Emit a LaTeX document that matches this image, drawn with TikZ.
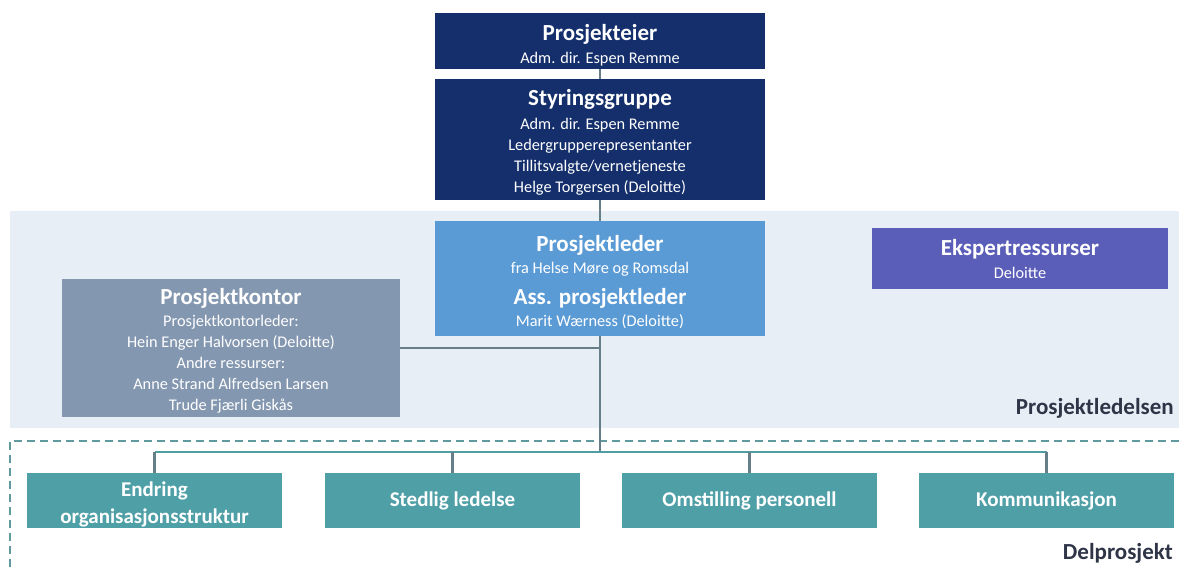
\documentclass[tikz,border=0pt]{standalone}
\usepackage{fontspec}
\setmainfont{Carlito}
\definecolor{navy}{HTML}{142F6B}
\definecolor{leadblue}{HTML}{5B9BD5}
\definecolor{officegrey}{HTML}{8497B0}
\definecolor{expert}{HTML}{5A5EB8}
\definecolor{teal}{HTML}{4F9FA7}
\definecolor{bandbg}{HTML}{E7EEF6}
\definecolor{labeltext}{HTML}{2E3547}
\definecolor{linegrey}{HTML}{667E88}
\definecolor{busteal}{HTML}{4E9EA2}
\definecolor{dashteal}{HTML}{5E9A9E}
\newcommand\titletxt{\fontsize{23}{26}\selectfont\bfseries}
\newcommand\subtxt{\fontsize{16.3}{21}\selectfont}
\newcommand\unittxt{\fontsize{21}{27}\selectfont\bfseries}
% invisible strut that pads the first line of a box from above
\newcommand\lift[1]{\rule{0pt}{#1pt}}
\tikzset{
  orgbox/.style={rectangle, inner sep=0pt, text=white, align=center, font=\subtxt},
  topbox/.style={orgbox, fill=navy, minimum width=330pt},
  unitbox/.style={orgbox, fill=teal, minimum width=255pt, minimum height=55pt, font=\unittxt},
  uline/.style={draw=linegrey, line width=2.2pt},
  busline/.style={draw=busteal, line width=2.2pt},
  sectionlabel/.style={anchor=east, inner sep=0pt, text=labeltext, font=\titletxt},
}
\begin{document}
\begin{tikzpicture}[x=1pt,y=-1pt]
\useasboundingbox (0,0) rectangle (1179,568);
% background bands
\fill[bandbg] (10,211) rectangle (1179,428);
\draw[dashteal, line width=2pt, dash pattern=on 8pt off 5pt] (1179,441) -- (10,441) -- (10,568);

% top level
\node[topbox, minimum height=56pt] (eier) at (600,41)
  {\lift{24}{\titletxt Prosjekteier}\\[2pt] Adm. dir. Espen Remme};
\node[topbox, minimum height=121pt] (styr) at (600,139.5)
  {\lift{21}{\titletxt Styringsgruppe}\\[3pt] Adm. dir. Espen Remme\\ Ledergrupperepresentanter\\ Tillitsvalgte/vernetjeneste\\ Helge Torgersen (Deloitte)};

% project management
\node[orgbox, fill=leadblue, minimum width=330pt, minimum height=115pt] (leder) at (600,278.5)
  {\lift{24}{\titletxt Prosjektleder}\\[1pt] fra Helse Møre og Romsdal\\[10pt] {\titletxt Ass. prosjektleder}\\[1pt] Marit Wærness (Deloitte)};
\node[orgbox, fill=officegrey, minimum width=338pt, minimum height=138pt] (kontor) at (231,348)
  {\lift{22}{\titletxt Prosjektkontor}\\[1pt] Prosjektkontorleder:\\ Hein Enger Halvorsen (Deloitte)\\ Andre ressurser:\\ Anne Strand Alfredsen Larsen\\ Trude Fjærli Giskås};
\node[orgbox, fill=expert, minimum width=296pt, minimum height=61pt] (ekspert) at (1020,258.5)
  {{\titletxt Ekspertressurser}\\[2pt] Deloitte};
\node[sectionlabel] (ledelsen) at (1174,408) {Prosjektledelsen};

% sub-projects
\node[unitbox] (d1) at (154.5,500.5) {\lift{23}Endring\\ organisasjonsstruktur};
\node[unitbox] (d2) at (452.5,500.5) {Stedlig ledelse};
\node[unitbox] (d3) at (749.5,500.5) {Omstilling personell};
\node[unitbox] (d4) at (1046.5,500.5) {Kommunikasjon};
\node[sectionlabel] (delprosjekt) at (1173,553) {Delprosjekt};

% connectors
\coordinate (bus) at (600,452);
\draw[uline] (eier.south) -- (styr.north);
\draw[uline] (styr.south) -- (leder.north);
\draw[uline] (kontor.east) -- (kontor.east -| leder.south);
\draw[uline] (leder.south) -- (bus);
\draw[busline] (d1.north |- bus) -- (d4.north |- bus);
\draw[uline] (d1.north) -- (d1.north |- bus);
\draw[uline] (d2.north) -- (d2.north |- bus);
\draw[uline] (d3.north) -- (d3.north |- bus);
\draw[uline] (d4.north) -- (d4.north |- bus);
\end{tikzpicture}
\end{document}
